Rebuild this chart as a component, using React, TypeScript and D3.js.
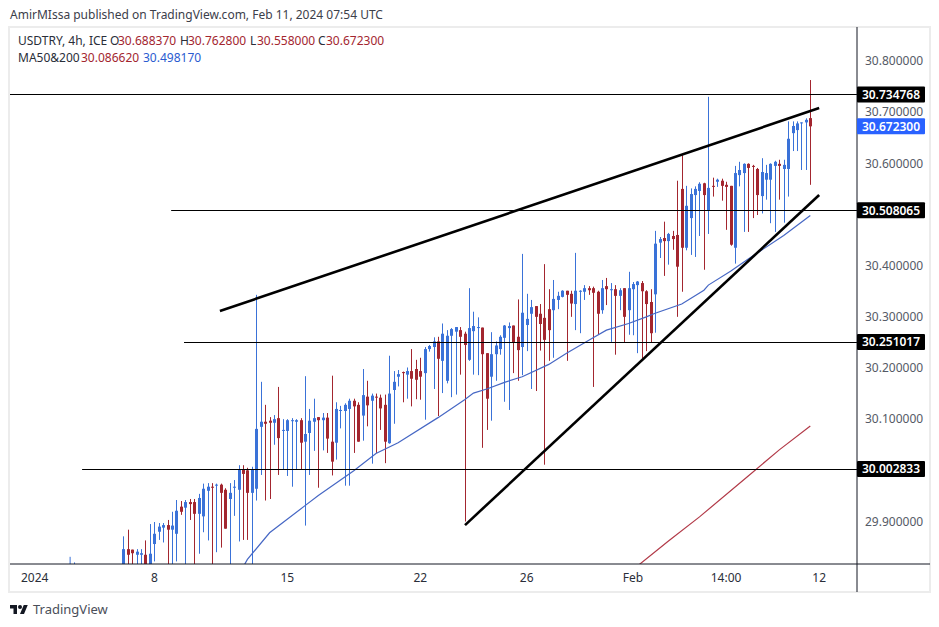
import React from "react";
import * as d3 from "d3";

const WIDTH = 939;
const HEIGHT = 627;
const PANE = { left: 10, right: 857, top: 27, bottom: 564, outer: 930, foot: 592 };
const FONT = "'Noto Sans', 'DejaVu Sans', sans-serif";
const UP = "#3a72d8";
const DOWN = "#a3262f";
const INK = "#2a2e39";

// candles, 4h bars (bars that ran below the pane are estimated)
const opens = [
  29.812, 29.846, 29.845, 29.835, 29.835, 29.835, 29.812, 29.856, 29.88, 29.888,
  29.893, 29.884, 29.876, 29.929, 29.927, 29.938, 29.938, 29.915, 29.91, 29.96,
  29.968, 29.971, 29.972, 29.962, 29.944, 29.966, 29.962, 30.002, 30.0, 29.956,
  29.964, 30.085, 30.095, 30.097, 30.093, 30.102, 30.078, 30.077, 30.097, 30.095,
  30.098, 30.056, 30.073, 30.095, 30.104, 30.098, 30.103, 30.056, 30.054, 30.116,
  30.116, 30.12, 30.136, 30.128, 30.107, 30.144, 30.136, 30.144, 30.142, 30.128,
  30.053, 30.157, 30.183, 30.192, 30.187, 30.194, 30.198, 30.194, 30.19, 30.237,
  30.241, 30.252, 30.214, 30.175, 30.263, 30.271, 30.274, 30.267, 30.216, 30.272,
  30.279, 30.279, 30.229, 30.183, 30.227, 30.237, 30.259, 30.278, 30.283, 30.261,
  30.241, 30.284, 30.306, 30.321, 30.306, 30.298, 30.315, 30.313, 30.333, 30.339,
  30.351, 30.345, 30.325, 30.349, 30.349, 30.356, 30.356, 30.349, 30.313, 30.36,
  30.352, 30.354, 30.341, 30.356, 30.313, 30.354, 30.362, 30.366, 30.35, 30.329,
  30.344, 30.445, 30.454, 30.448, 30.458, 30.46, 30.55, 30.435, 30.493, 30.538,
  30.546, 30.561, 30.507, 30.556, 30.564, 30.566, 30.558, 30.556, 30.435, 30.577,
  30.581, 30.599, 30.595, 30.589, 30.536, 30.568, 30.568, 30.595, 30.599, 30.589,
  30.589, 30.659, 30.665, 30.679, 30.68, 30.68837,
];
const highs = [
  29.871, 29.884, 29.845, 29.846, 29.846, 29.863, 29.895, 29.899, 29.897, 29.897,
  29.903, 29.919, 29.942, 29.94, 29.942, 29.944, 29.944, 29.954, 29.974, 29.975,
  29.975, 29.974, 29.974, 29.965, 29.975, 29.981, 30.01, 30.01, 30.005, 30.007,
  30.343, 30.173, 30.128, 30.104, 30.108, 30.163, 30.1, 30.1, 30.102, 30.1,
  30.102, 30.184, 30.12, 30.14, 30.104, 30.112, 30.112, 30.185, 30.133, 30.126,
  30.131, 30.14, 30.14, 30.133, 30.198, 30.175, 30.15, 30.15, 30.148, 30.148,
  30.224, 30.194, 30.196, 30.193, 30.201, 30.237, 30.216, 30.22, 30.241, 30.245,
  30.26, 30.261, 30.287, 30.274, 30.278, 30.28, 30.28, 30.271, 30.356, 30.31,
  30.299, 30.279, 30.229, 30.27, 30.252, 30.264, 30.284, 30.289, 30.283, 30.334,
  30.423, 30.345, 30.333, 30.321, 30.325, 30.403, 30.354, 30.372, 30.349, 30.352,
  30.351, 30.351, 30.425, 30.352, 30.362, 30.36, 30.359, 30.351, 30.372, 30.376,
  30.366, 30.362, 30.356, 30.356, 30.388, 30.368, 30.37, 30.37, 30.352, 30.354,
  30.468, 30.456, 30.486, 30.464, 30.468, 30.566, 30.616, 30.556, 30.551, 30.555,
  30.563, 30.562, 30.73, 30.572, 30.57, 30.57, 30.564, 30.556, 30.595, 30.603,
  30.6, 30.6, 30.597, 30.591, 30.61, 30.597, 30.6, 30.605, 30.607, 30.607,
  30.682, 30.682, 30.682, 30.68, 30.688, 30.7628,
];
const lows = [
  29.79, 29.8, 29.8, 29.8, 29.8, 29.8, 29.79, 29.822, 29.864, 29.859,
  29.8, 29.8, 29.822, 29.913, 29.8, 29.903, 29.8, 29.837, 29.879, 29.863,
  29.8, 29.84, 29.849, 29.886, 29.8, 29.911, 29.861, 29.864, 29.864, 29.8,
  29.941, 29.991, 29.941, 29.944, 30.05, 29.991, 30.001, 29.989, 29.968, 30.001,
  30.001, 29.892, 29.991, 30.038, 29.966, 30.039, 30.034, 29.99, 30.021, 30.082,
  29.97, 29.97, 30.034, 30.056, 30.058, 30.086, 30.013, 30.034, 30.079, 30.014,
  30.052, 30.091, 30.164, 30.133, 30.14, 30.125, 30.139, 30.138, 30.099, 30.232,
  30.159, 30.106, 30.151, 30.17, 30.143, 30.148, 30.187, 29.9, 30.214, 30.187,
  30.186, 30.044, 30.079, 30.097, 30.175, 30.226, 30.134, 30.118, 30.19, 30.175,
  30.186, 30.233, 30.159, 30.155, 30.234, 30.011, 30.214, 30.22, 30.315, 30.338,
  30.214, 30.3, 30.274, 30.268, 30.333, 30.343, 30.163, 30.266, 30.306, 30.323,
  30.251, 30.226, 30.313, 30.25, 30.265, 30.264, 30.229, 30.219, 30.233, 30.25,
  30.269, 30.415, 30.38, 30.402, 30.431, 30.3, 30.349, 30.43, 30.421, 30.417,
  30.458, 30.392, 30.462, 30.535, 30.554, 30.527, 30.47, 30.439, 30.404, 30.555,
  30.466, 30.466, 30.493, 30.499, 30.502, 30.529, 30.483, 30.466, 30.529, 30.484,
  30.535, 30.624, 30.624, 30.587, 30.587, 30.558,
];
const closes = [
  29.846, 29.835, 29.838, 29.841, 29.838, 29.812, 29.837, 29.876, 29.89, 29.893,
  29.884, 29.892, 29.921, 29.919, 29.938, 29.934, 29.915, 29.946, 29.964, 29.968,
  29.966, 29.972, 29.956, 29.886, 29.956, 29.968, 30.002, 29.993, 29.956, 30.002,
  30.081, 30.095, 30.091, 30.093, 30.1, 30.063, 30.079, 30.098, 30.098, 30.098,
  30.054, 30.071, 30.097, 30.102, 30.098, 30.103, 30.062, 30.017, 30.12, 30.118,
  30.128, 30.136, 30.125, 30.056, 30.147, 30.127, 30.146, 30.143, 30.121, 30.056,
  30.15, 30.173, 30.188, 30.19, 30.194, 30.179, 30.177, 30.183, 30.237, 30.243,
  30.252, 30.218, 30.267, 30.263, 30.276, 30.28, 30.261, 30.245, 30.278, 30.282,
  30.28, 30.227, 30.14, 30.227, 30.244, 30.261, 30.283, 30.282, 30.249, 30.235,
  30.308, 30.296, 30.319, 30.3, 30.286, 30.255, 30.274, 30.335, 30.341, 30.351,
  30.343, 30.326, 30.351, 30.351, 30.356, 30.352, 30.347, 30.306, 30.356, 30.354,
  30.354, 30.341, 30.352, 30.3, 30.356, 30.364, 30.369, 30.35, 30.325, 30.268,
  30.443, 30.452, 30.448, 30.462, 30.452, 30.398, 30.435, 30.517, 30.54, 30.55,
  30.56, 30.538, 30.552, 30.555, 30.568, 30.556, 30.554, 30.441, 30.581, 30.587,
  30.599, 30.591, 30.594, 30.538, 30.583, 30.581, 30.599, 30.603, 30.595, 30.597,
  30.648, 30.673, 30.678, 30.68, 30.685, 30.6723,
];

// two older bars that only just poke above the time axis
const earlyBars = [-12, -11];
const earlyHighs = [29.831, 29.82];

// moving averages, read at these bars
const ma50Bars = [26, 28, 33, 41, 44, 52, 57, 62, 71, 77, 79, 82, 86, 90, 96, 100, 106, 109, 114, 118, 120, 126, 131, 132, 137, 141, 149, 155];
const ma50Values = [29.795, 29.826, 29.878, 29.931, 29.951, 29.999, 30.033, 30.054, 30.103, 30.138, 30.151, 30.159, 30.172, 30.183, 30.207, 30.229, 30.259, 30.274, 30.287, 30.3, 30.307, 30.325, 30.352, 30.362, 30.389, 30.413, 30.459, 30.49817];
const ma200Bars = [116, 123, 130, 141, 148, 155];
const ma200Values = [29.813, 29.862, 29.909, 29.989, 30.04, 30.08662];

// horizontal levels: price and the bar where the drawing starts
const levelPrices = [30.734768, 30.508065, 30.251017, 30.002833];
const levelStarts = [-25.6, 10.8, 13.7, -9.3];

// trend lines [bar, price] at each end
const upperTrend: [number, number][] = [[21.8, 30.3114], [157, 30.708]];
const lowerTrend: [number, number][] = [[77.1, 29.893], [157, 30.538]];

const priceTicks = [30.8, 30.7, 30.6, 30.4, 30.3, 30.2, 30.1, 29.9];
const timeTicks = ["2024", "8", "15", "22", "26", "Feb", "14:00", "12"];
const timeTickBars = [-20, 7, 37, 67, 91, 115, 136, 157];
const lastPrice = 30.6723;

const xScale = d3.scaleLinear().domain([0, 155]).range([123.3, 810.3]);
const yScale = d3.scaleLinear().domain([29.9, 30.8]).range([521.5, 61]);
const priceLine = d3.line<[number, number]>().x((d) => xScale(d[0])).y((d) => yScale(d[1]));
const zipped = (a: number[], b: number[]) => a.map((v, i) => [v, b[i]] as [number, number]);

const PriceLabel = ({ price, fill }: { price: number; fill: string }) => (
  <g>
    <rect x={PANE.right} y={yScale(price) - 8} width={68} height={16} fill={fill} rx={1} />
    <text x={PANE.right + 34} y={yScale(price)} dy="0.35em" textAnchor="middle" fontSize={12} fontWeight={600} fill="#fff">
      {price.toFixed(6)}
    </text>
  </g>
);

export default function App() {
  const candles = d3.range(opens.length).map((i) => {
    const color = closes[i] >= opens[i] ? UP : DOWN;
    const top = yScale(Math.max(opens[i], closes[i]));
    const bottom = yScale(Math.min(opens[i], closes[i]));
    const x = Math.round(xScale(i));
    return (
      <g key={i}>
        <line x1={x + 0.5} x2={x + 0.5} y1={yScale(highs[i])} y2={yScale(lows[i])} stroke={color} strokeWidth={1} />
        <rect x={x - 1} y={top} width={3} height={Math.max(bottom - top, 1)} fill={color} />
      </g>
    );
  });

  return (
    <div style={{ position: "absolute", left: 0, top: 0 }}>
      <svg width={WIDTH} height={HEIGHT} fontFamily={FONT} style={{ display: "block", background: "#fff" }}>
        <text x={10} y={19} fontSize={12} fill="#3c404a">
          AmirMIssa published on TradingView.com, Feb 11, 2024 07:54 UTC
        </text>

        <rect x={PANE.left - 1} y={PANE.top} width={PANE.outer - PANE.left + 1} height={PANE.foot - PANE.top} fill="none" stroke="#ececec" strokeWidth={2} />

        <clipPath id="pane">
          <rect x={PANE.left} y={PANE.top} width={PANE.right - PANE.left} height={PANE.bottom - PANE.top} />
        </clipPath>

        <g clipPath="url(#pane)">
          {earlyBars.map((b, i) => (
            <line key={b} x1={xScale(b)} x2={xScale(b)} y1={yScale(earlyHighs[i])} y2={PANE.bottom} stroke={UP} />
          ))}
          {candles}
          <path d={priceLine(zipped(ma50Bars, ma50Values)) ?? ""} fill="none" stroke="#4667c4" strokeWidth={1.2} />
          <path d={priceLine(zipped(ma200Bars, ma200Values)) ?? ""} fill="none" stroke="#b23a48" strokeWidth={1.2} />
          {levelPrices.map((p, i) => (
            <line key={p} x1={xScale(levelStarts[i])} x2={PANE.right} y1={Math.round(yScale(p)) + 0.5} y2={Math.round(yScale(p)) + 0.5} stroke="#000" />
          ))}
          <path d={priceLine(upperTrend) ?? ""} stroke="#000" strokeWidth={2.6} fill="none" />
          <path d={priceLine(lowerTrend) ?? ""} stroke="#000" strokeWidth={2.6} fill="none" />
        </g>

        <line x1={PANE.left} x2={PANE.outer} y1={PANE.bottom} y2={PANE.bottom} stroke="#131722" />
        <line x1={PANE.right} x2={PANE.right} y1={PANE.top} y2={PANE.foot} stroke="#131722" />

        {priceTicks.map((p) => (
          <text key={p} x={865} y={yScale(p)} dy="0.35em" fontSize={12} fill="#555a66">
            {p.toFixed(6)}
          </text>
        ))}
        {levelPrices.map((p) => (
          <PriceLabel key={p} price={p} fill="#000" />
        ))}
        <PriceLabel price={lastPrice} fill="#2962ff" />

        {timeTicks.map((t, i) => (
          <text key={t} x={xScale(timeTickBars[i])} y={578} dy="0.35em" textAnchor="middle" fontSize={12} fill={INK}>
            {t}
          </text>
        ))}

        <g fontSize={12}>
          <text x={18} y={45} fill={INK}>USDTRY, 4h, ICE</text>
          <text x={110} y={45} fill={INK}>O</text>
          <text x={118} y={45} fill={DOWN}>30.688370</text>
          <text x={180} y={45} fill={INK}>H</text>
          <text x={188} y={45} fill={DOWN}>30.762800</text>
          <text x={250} y={45} fill={INK}>L</text>
          <text x={257} y={45} fill={DOWN}>30.558000</text>
          <text x={318} y={45} fill={INK}>C</text>
          <text x={326} y={45} fill={DOWN}>30.672300</text>
          <text x={18} y={62} fill={INK}>MA50&amp;200</text>
          <text x={81} y={62} fill={DOWN}>30.086620</text>
          <text x={143} y={62} fill="#2a5bd0">30.498170</text>
        </g>

        <g transform="translate(10,603) scale(0.5)" fill="#131722">
          <path d="M14 22H7V11H0V4h14v18zM28 22h-8l7.5-18h8L28 22z" />
          <circle cx={20} cy={8} r={4} />
        </g>
        <text x={33} y={614} fontSize={13} fill="#4a4e59">TradingView</text>
      </svg>
    </div>
  );
}
